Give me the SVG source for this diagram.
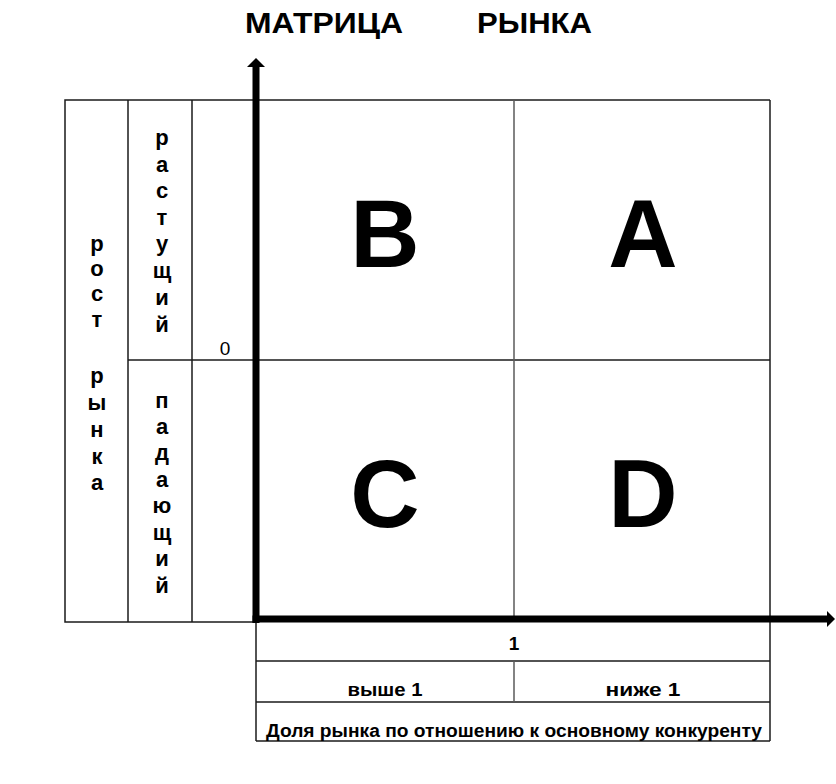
<svg xmlns="http://www.w3.org/2000/svg" width="836" height="784" viewBox="0 0 836 784">
<style>
.ln{stroke:#1a1a1a;stroke-width:1.5;fill:none}
.lg{stroke:#5a5a5a;stroke-width:1.5;fill:none}
.t{font-family:"Liberation Sans",Arial,sans-serif;font-weight:bold;fill:#000}
.v{font-size:22px;text-anchor:middle}
.big{font-size:96px;text-anchor:middle}
.sm{font-size:19px;text-anchor:middle}
.ax{stroke:#000;stroke-width:7;fill:none}
</style>
<rect width="836" height="784" fill="#fff"/>
<g id="title">
<text class="t" x="245" y="33" font-size="30" textLength="158" lengthAdjust="spacingAndGlyphs">МАТРИЦА</text>
<text class="t" x="477" y="33" font-size="30" textLength="115" lengthAdjust="spacingAndGlyphs">РЫНКА</text>
</g>
<g id="left-table">
<rect class="ln" x="65" y="100" width="191" height="522"/>
<line class="ln" x1="128" y1="100" x2="128" y2="622"/>
<line class="ln" x1="192" y1="100" x2="192" y2="622"/>
<line class="ln" x1="128" y1="360" x2="256" y2="360"/>
</g>
<g id="rost-rynka">
<text class="t v" x="97"><tspan x="97" y="251">р</tspan><tspan x="97" y="276">о</tspan><tspan x="97" y="301">с</tspan><tspan x="97" y="327">т</tspan><tspan x="97" y="383">р</tspan><tspan x="97" y="410">ы</tspan><tspan x="97" y="437">н</tspan><tspan x="97" y="464">к</tspan><tspan x="97" y="490">а</tspan></text>
</g>
<g id="rastushchiy">
<text class="t v" x="162"><tspan x="162" y="145">р</tspan><tspan x="162" y="172">а</tspan><tspan x="162" y="198">с</tspan><tspan x="162" y="225">т</tspan><tspan x="162" y="251">у</tspan><tspan x="162" y="278">щ</tspan><tspan x="162" y="305">и</tspan><tspan x="162" y="332">й</tspan></text>
</g>
<g id="padayushchiy">
<text class="t v" x="162"><tspan x="162" y="408">п</tspan><tspan x="162" y="434">а</tspan><tspan x="162" y="460">д</tspan><tspan x="162" y="487">а</tspan><tspan x="162" y="513">ю</tspan><tspan x="162" y="540">щ</tspan><tspan x="162" y="566">и</tspan><tspan x="162" y="593">й</tspan></text>
</g>
<g id="zero">
<text x="225" y="355" font-family="Liberation Sans,Arial,sans-serif" font-size="19" text-anchor="middle" fill="#000">0</text>
</g>
<g id="matrix-grid">
<line class="ln" x1="256" y1="100" x2="770" y2="100"/>
<line class="ln" x1="770" y1="100" x2="770" y2="741"/>
<line class="ln" x1="256" y1="360" x2="770" y2="360"/>
<line class="lg" x1="514" y1="100" x2="514" y2="616"/>
</g>
<g id="quadrant-B"><text class="t big" x="385" y="267">B</text></g>
<g id="quadrant-A"><text class="t big" x="643" y="267">A</text></g>
<g id="quadrant-C"><text class="t big" x="385" y="527">C</text></g>
<g id="quadrant-D"><text class="t big" x="643" y="527">D</text></g>
<g id="bottom-table">
<line class="ln" x1="256" y1="622" x2="256" y2="741"/>
<line class="ln" x1="256" y1="661" x2="770" y2="661"/>
<line class="ln" x1="256" y1="702" x2="770" y2="702"/>
<line class="ln" x1="256" y1="741" x2="770" y2="741"/>
<line class="lg" x1="514" y1="661" x2="514" y2="702"/>
<text class="t sm" x="514" y="650">1</text>
<text class="t sm" x="385" y="696" textLength="75" lengthAdjust="spacingAndGlyphs">выше 1</text>
<text class="t sm" x="643" y="696" textLength="75" lengthAdjust="spacingAndGlyphs">ниже 1</text>
<text class="t" x="514" y="737" font-size="18" text-anchor="middle" textLength="496" lengthAdjust="spacingAndGlyphs">Доля рынка по отношению к основному конкуренту</text>
</g>
<g id="connectors">
<line class="ax" x1="256" y1="623" x2="256" y2="66"/>
<polygon points="247,67 256,58 265,67" fill="#000"/>
<line class="ax" x1="252.5" y1="619" x2="828" y2="619" stroke-width="8"/>
<polygon points="827,611 835,619 827,627" fill="#000"/>
</g>
</svg>
